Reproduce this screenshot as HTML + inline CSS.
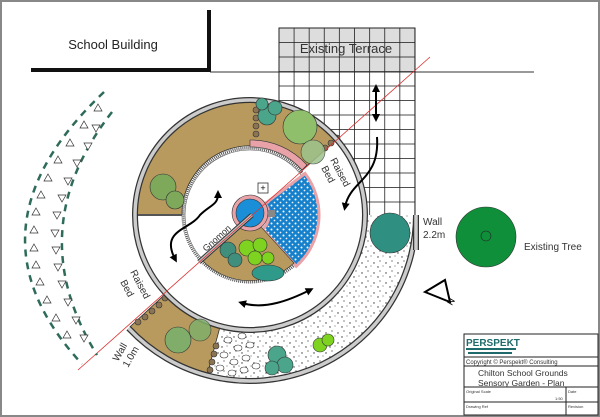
<!DOCTYPE html>
<html><head><meta charset="utf-8"><style>
html,body{margin:0;padding:0;background:#fff}
svg{display:block}
text{font-family:"Liberation Sans",sans-serif}
</style></head><body>
<svg width="600" height="417" viewBox="0 0 600 417" xmlns="http://www.w3.org/2000/svg">
<defs>
<pattern id="grid" x="279" y="28" width="15.1" height="14.5" patternUnits="userSpaceOnUse">
<rect width="15.1" height="14.5" fill="none" stroke="#222" stroke-width="0.8"/>
</pattern>
<pattern id="dots" width="6" height="6" patternUnits="userSpaceOnUse">
<rect width="6" height="6" fill="#1580cc"/>
<circle cx="1.5" cy="1.5" r="1" fill="#fff"/>
<circle cx="4.5" cy="4.5" r="0.9" fill="#eee"/>
</pattern>
<pattern id="spk" width="12" height="10" patternUnits="userSpaceOnUse">
<circle cx="2" cy="3" r="0.7" fill="#333"/><circle cx="8" cy="1" r="0.6" fill="#333"/><circle cx="6" cy="7" r="0.7" fill="#333"/><circle cx="11" cy="6" r="0.5" fill="#333"/>
</pattern>
<marker id="ah" markerWidth="8" markerHeight="8" refX="4" refY="4" orient="auto" markerUnits="userSpaceOnUse" viewBox="0 0 8 8"><path d="M0,0 L8,4 L0,8 Z" fill="#000"/></marker>
<marker id="as" markerWidth="8" markerHeight="8" refX="4" refY="4" orient="auto-start-reverse" markerUnits="userSpaceOnUse" viewBox="0 0 8 8"><path d="M0,0 L8,4 L0,8 Z" fill="#000"/></marker>
</defs>
<rect x="0" y="0" width="600" height="417" fill="#fff"/>
<rect x="1" y="1" width="598" height="415" fill="none" stroke="#888" stroke-width="2"/>

<path d="M31,70 L209,70 L209,10" fill="none" stroke="#111" stroke-width="4"/>
<text x="113" y="49" font-size="13" text-anchor="middle" fill="#222">School Building</text>
<line x1="210" y1="72" x2="534" y2="72" stroke="#333" stroke-width="1"/>

<rect x="279" y="28" width="136" height="44" fill="#ddd"/>
<rect x="279" y="28" width="136" height="192" fill="url(#grid)" stroke="#222" stroke-width="1"/>
<text x="346" y="53" font-size="13" text-anchor="middle" fill="#333">Existing Terrace</text>

<path d="M416,215 A166,166 0 0 1 128.6,328.2 L250,215 Z" fill="#fff"/>
<path d="M416,215 A166,166 0 0 1 128.6,328.2 L250,215 Z" fill="url(#spk)"/>
<circle cx="250" cy="215" r="115" fill="#fff"/>

<path d="M164.5,294.8 L130,326.8 A164,164 0 0 0 207.5,373.4 L219.7,328 A117,117 0 0 1 164.5,294.8 Z" fill="#b89a5e" stroke="#333" stroke-width="0.8"/>
<g fill="#fff" stroke="#333" stroke-width="0.6">
<ellipse cx="228" cy="340" rx="4" ry="3"/><ellipse cx="238" cy="348" rx="4" ry="3"/><ellipse cx="224" cy="355" rx="4" ry="3"/><ellipse cx="234" cy="362" rx="4" ry="3"/><ellipse cx="246" cy="358" rx="4" ry="3"/><ellipse cx="250" cy="345" rx="4" ry="3"/><ellipse cx="220" cy="368" rx="4" ry="3"/><ellipse cx="232" cy="373" rx="4" ry="3"/><ellipse cx="244" cy="370" rx="4" ry="3"/><ellipse cx="256" cy="366" rx="4" ry="3"/><ellipse cx="242" cy="336" rx="4" ry="3"/>
</g>
<g fill="#8a7454" stroke="#333" stroke-width="0.6">
<circle cx="138" cy="322" r="3"/><circle cx="145" cy="317" r="3"/><circle cx="152" cy="311" r="3"/><circle cx="159" cy="305" r="3"/><circle cx="165" cy="298" r="3"/>
<circle cx="210" cy="370" r="3"/><circle cx="212" cy="362" r="3"/><circle cx="214" cy="354" r="3"/><circle cx="216" cy="346" r="3"/>
</g>

<path d="M137,215 A113,113 0 0 1 335.3,140.9 L302,170 A68,68 0 0 0 182,215 Z" fill="#b89a5e" stroke="#333" stroke-width="0.8"/>
<path d="M250,147 A68,68 0 0 1 302,170 L307,165 A75,75 0 0 0 250,140 Z" fill="#e8a2a8" stroke="#333" stroke-width="0.6"/>
<line x1="137" y1="215" x2="182" y2="215" stroke="#555" stroke-width="2"/>
<g fill="#8a7454" stroke="#333" stroke-width="0.6">
<circle cx="256" cy="118" r="3"/><circle cx="256" cy="126" r="3"/><circle cx="256" cy="134" r="3"/><circle cx="256" cy="110" r="3"/>
<circle cx="325" cy="148" r="3"/><circle cx="331" cy="143" r="3"/><circle cx="337" cy="138" r="3"/>
</g>

<circle cx="250" cy="215" r="115" fill="none" stroke="#333" stroke-width="6"/>
<circle cx="250" cy="215" r="115" fill="none" stroke="#ccc" stroke-width="3.5"/>
<path d="M416,215 A166,166 0 0 1 128.6,328.2" fill="none" stroke="#333" stroke-width="6"/>
<path d="M416,215 A166,166 0 0 1 128.6,328.2" fill="none" stroke="#ccc" stroke-width="3.5"/>
<line x1="416" y1="215" x2="416" y2="250" stroke="#333" stroke-width="6"/>
<line x1="416" y1="215" x2="416" y2="250" stroke="#ccc" stroke-width="3.5"/>

<circle cx="250" cy="215" r="67" fill="#fff" stroke="#555" stroke-width="3" stroke-dasharray="1 1"/>
<circle cx="250" cy="215" r="65" fill="none" stroke="#555" stroke-width="0.6"/>
<path d="M265.2,203.6 L305.1,173.5 A69,69 0 0 1 296.2,266.3 L262.7,229.1 A19,19 0 0 0 265.2,203.6Z" fill="url(#dots)" stroke="#e8a2a8" stroke-width="3"/>
<path d="M250,215 L294,263 A65,65 0 0 1 202,260 Z" fill="#b89a5e" stroke="#333" stroke-width="0.6"/>
<circle cx="250" cy="213" r="18" fill="#e8a2a8" stroke="#333" stroke-width="0.6"/>
<circle cx="250" cy="213" r="14" fill="#1a8fd8" stroke="#333" stroke-width="0.6"/>
<rect x="268" y="210" width="7" height="7" fill="#888"/>
<rect x="258" y="183" width="10" height="10" fill="#fff" stroke="#333" stroke-width="0.8"/>
<text x="263" y="191" font-size="9" text-anchor="middle">+</text>
<line x1="252" y1="215" x2="199" y2="262" stroke="#333" stroke-width="5"/>
<line x1="252" y1="215" x2="199" y2="262" stroke="#bbb" stroke-width="3"/>
<text x="0" y="0" font-size="9" fill="#333" transform="translate(206,252) rotate(-42)">Gnomon</text>

<line x1="78" y1="370" x2="430" y2="57" stroke="#d33" stroke-width="0.8"/>

<g stroke="#333" stroke-width="0.6">
<circle cx="300" cy="127" r="17" fill="#8fbf6a"/>
<circle cx="313" cy="152" r="12" fill="#9cc48c" opacity="0.85"/>
<circle cx="267" cy="116" r="9" fill="#4aa58a"/><circle cx="275" cy="108" r="7" fill="#4aa58a"/><circle cx="262" cy="104" r="6" fill="#4aa58a"/>
<circle cx="163" cy="187" r="13" fill="#7ea85a"/><circle cx="175" cy="200" r="9" fill="#7ea85a"/>
<circle cx="247" cy="248" r="8" fill="#7ed321"/><circle cx="260" cy="245" r="7" fill="#7ed321"/><circle cx="255" cy="258" r="7" fill="#7ed321"/><circle cx="268" cy="258" r="6" fill="#7ed321"/>
<circle cx="228" cy="250" r="8" fill="#3f8f7c"/><circle cx="235" cy="260" r="7" fill="#3f8f7c"/>
<ellipse cx="268" cy="273" rx="16" ry="8" fill="#2f9a8a"/>
<circle cx="390" cy="233" r="20" fill="#2f8f80"/>
<circle cx="178" cy="340" r="13" fill="#80ae6a"/><circle cx="200" cy="330" r="11" fill="#80ae6a" opacity="0.85"/>
<circle cx="277" cy="355" r="9" fill="#4aa58a"/><circle cx="285" cy="365" r="8" fill="#4aa58a"/><circle cx="272" cy="368" r="7" fill="#4aa58a"/>
<circle cx="320" cy="345" r="7" fill="#7ed321"/><circle cx="328" cy="340" r="6" fill="#7ed321"/>
<circle cx="486" cy="237" r="30" fill="#0f8f3a"/>
<circle cx="486" cy="236" r="5" fill="none" stroke="#222"/>
</g>

<g fill="none" stroke="#000" stroke-width="2">
<path d="M376,88 L376,118" marker-start="url(#as)" marker-end="url(#ah)"/>
<path d="M377,137 C380,180 350,180 345,207" marker-end="url(#ah)"/>
<path d="M175,259 C160,230 190,230 200,215 C210,205 218,205 218,194" marker-start="url(#as)" marker-end="url(#ah)"/>
<path d="M242,303 C265,310 290,300 310,290" marker-start="url(#as)" marker-end="url(#ah)"/>
</g>

<text font-size="10" fill="#333" transform="translate(330,160) rotate(62)">Raised</text>
<text font-size="10" fill="#333" transform="translate(321,168) rotate(62)">Bed</text>
<text font-size="10" fill="#333" transform="translate(130,272) rotate(62)">Raised</text>
<text font-size="10" fill="#333" transform="translate(120,282) rotate(62)">Bed</text>
<text font-size="10" fill="#333" transform="translate(118,362) rotate(-60)">Wall</text>
<text font-size="10" fill="#333" transform="translate(128,368) rotate(-60)">1.0m</text>
<text x="423" y="225" font-size="10" fill="#333">Wall</text>
<text x="423" y="238" font-size="10" fill="#333">2.2m</text>
<text x="524" y="250" font-size="10" fill="#333">Existing Tree</text>
<polygon points="425,292 445,280 450,302" fill="#fff" stroke="#000" stroke-width="2"/>
<text font-size="9" transform="translate(452,306) rotate(-60)">N</text>

<g fill="none" stroke="#2e6b5a" stroke-width="2.5" stroke-dasharray="7 6">
<path d="M104,92 Q-42,230 82,364"/>
<path d="M112,112 Q20,230 97,355"/>
</g>
<g fill="#fff" stroke="#333" stroke-width="0.7">
<polygon points="0,-4 4,3 -4,3" transform="translate(98,108)"/><polygon points="0,-4 4,3 -4,3" transform="translate(84,125)"/><polygon points="0,-4 4,3 -4,3" transform="translate(70,143)"/><polygon points="0,-4 4,3 -4,3" transform="translate(58,160)"/><polygon points="0,-4 4,3 -4,3" transform="translate(48,178)"/><polygon points="0,-4 4,3 -4,3" transform="translate(41,195)"/><polygon points="0,-4 4,3 -4,3" transform="translate(36,212)"/><polygon points="0,-4 4,3 -4,3" transform="translate(34,230)"/><polygon points="0,-4 4,3 -4,3" transform="translate(34,248)"/><polygon points="0,-4 4,3 -4,3" transform="translate(36,265)"/><polygon points="0,-4 4,3 -4,3" transform="translate(40,282)"/><polygon points="0,-4 4,3 -4,3" transform="translate(47,300)"/><polygon points="0,-4 4,3 -4,3" transform="translate(56,318)"/><polygon points="0,-4 4,3 -4,3" transform="translate(67,335)"/>
<polygon points="0,4 4,-3 -4,-3" transform="translate(96,128)"/><polygon points="0,4 4,-3 -4,-3" transform="translate(88,146)"/><polygon points="0,4 4,-3 -4,-3" transform="translate(77,163)"/><polygon points="0,4 4,-3 -4,-3" transform="translate(68,181)"/><polygon points="0,4 4,-3 -4,-3" transform="translate(62,198)"/><polygon points="0,4 4,-3 -4,-3" transform="translate(57,215)"/><polygon points="0,4 4,-3 -4,-3" transform="translate(55,233)"/><polygon points="0,4 4,-3 -4,-3" transform="translate(56,250)"/><polygon points="0,4 4,-3 -4,-3" transform="translate(58,267)"/><polygon points="0,4 4,-3 -4,-3" transform="translate(62,284)"/><polygon points="0,4 4,-3 -4,-3" transform="translate(68,302)"/><polygon points="0,4 4,-3 -4,-3" transform="translate(76,320)"/><polygon points="0,4 4,-3 -4,-3" transform="translate(84,338)"/>
</g>

<g stroke="#222" stroke-width="1" fill="none">
<rect x="464" y="334" width="134" height="81" fill="#fff"/>
<line x1="464" y1="357" x2="598" y2="357"/>
<line x1="464" y1="366" x2="598" y2="366"/>
<line x1="464" y1="387" x2="598" y2="387"/>
<line x1="464" y1="402" x2="598" y2="402"/>
<line x1="566" y1="387" x2="566" y2="415"/>
</g>
<text x="466" y="346" font-size="10" font-weight="bold" fill="#1f6b6b">PERSPEKT</text>
<rect x="466" y="348" width="50" height="2" fill="#1f6b6b"/><rect x="468" y="352" width="44" height="2" fill="#1f6b6b"/>
<text x="466" y="364" font-size="6" fill="#333">Copyright © Perspekt® Consulting</text>
<text x="478" y="376" font-size="8.5" fill="#333">Chilton School Grounds</text>
<text x="478" y="386" font-size="8.5" fill="#333">Sensory Garden - Plan</text>
<text x="466" y="393" font-size="4" fill="#333">Original Scale</text>
<text x="555" y="400" font-size="4" fill="#333">1:50</text>
<text x="568" y="393" font-size="4" fill="#333">Date</text>
<text x="466" y="408" font-size="4" fill="#333">Drawing Ref</text>
<text x="568" y="408" font-size="4" fill="#333">Revision</text>
</svg>
</body></html>
